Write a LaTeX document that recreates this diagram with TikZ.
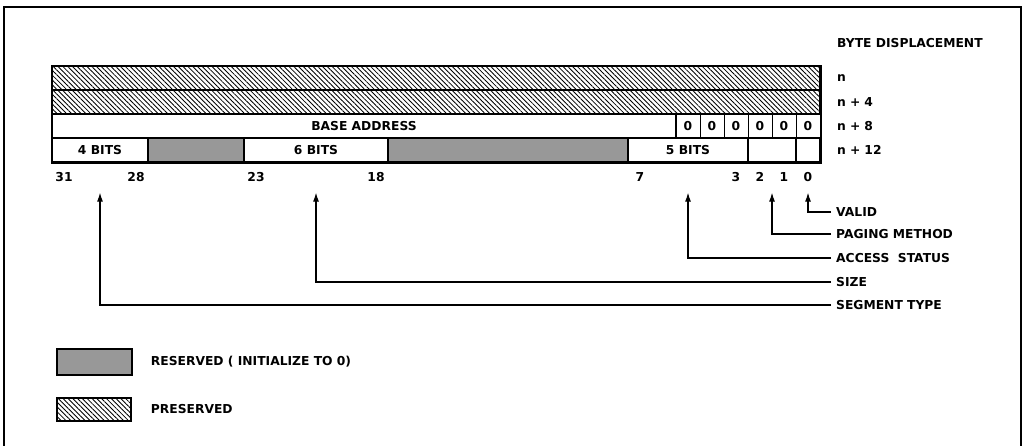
\documentclass[tikz,border=0pt]{standalone}
\usepackage{fontspec}
\setmainfont{DejaVu Sans}
\usetikzlibrary{patterns.meta,positioning,arrows.meta}

\newcommand{\txtfont}{\fontsize{12.3}{14}\selectfont\bfseries}
\tikzset{
  field/.style={draw,line width=1.3pt,minimum height=24pt,inner sep=0pt,font=\txtfont},
  zerocell/.style={field,line width=0.9pt,minimum width=24pt},
  preserved/.style={pattern={Lines[angle=-45,distance=3.4pt,line width=0.85pt]}},
  reserved/.style={fill=black!35,postaction={pattern={Dots[distance=2pt,radius=0.45pt]}}},
  lbl/.style={anchor=west,inner sep=0pt,font=\txtfont},
  ptr/.style={anchor=west,inner xsep=5pt,inner ysep=0pt,font=\txtfont},
  bitno/.style={inner sep=0pt,font=\txtfont},
  pointer/.style={-{Latex[length=9pt,width=6pt]},line width=1.1pt},
}

\begin{document}
\begin{tikzpicture}[x=1pt,y=-1pt,line cap=butt]
  \useasboundingbox (0,0) rectangle (1024,446);
  \draw[line width=1.5pt] (4,450) -- (4,7) -- (1021,7) -- (1021,450);

  % preserved rows
  \node[field,preserved,minimum width=768pt] (prs1) at (436,78) {};
  \node[field,preserved,minimum width=768pt] (prs2) at (436,102) {};

  % base address row
  \node[field,minimum width=624pt] (base) at (364,126) {BASE ADDRESS};
  \foreach \i/\x in {5/688,4/712,3/736,2/760,1/784,0/808}
    \node[zerocell] (zero\i) at (\x,126) {0};

  % last row
  \node[field,minimum width=96pt] (f4bits) at (100,150) {4 BITS};
  \node[field,reserved,minimum width=96pt] (res1) at (196,150) {};
  \node[field,minimum width=144pt] (f6bits) at (316,150) {6 BITS};
  \node[field,reserved,minimum width=240pt] (res2) at (508,150) {};
  \node[field,minimum width=120pt] (f5bits) at (688,150) {5 BITS};
  \node[field,minimum width=48pt] (f2bits) at (772,150) {};
  \node[field,minimum width=24pt] (f1bit) at (808,150) {};
  \draw[line width=2pt] (prs1.north west) rectangle (f1bit.south east);

  % bit numbers
  \foreach \b/\x in {31/64,28/136,23/256,18/376,7/640,3/736,2/760,1/784,0/808}
    \node[bitno] (bit\b) at (\x,177) {\b};

  % byte displacement
  \node[lbl] (bytedisp) at (837,43) {BYTE DISPLACEMENT};
  \node[lbl] (dn) at (837,78) {n};
  \node[lbl] (dn4) at (837,102) {n\,\,+\,\,4};
  \node[lbl] (dn8) at (837,126) {n\,\,+\,\,8};
  \node[lbl] (dn12) at (837,150) {n\,\,+\,\,12};

  % pointers
  \node[ptr] (valid) at (831,212) {VALID};
  \node[ptr] (paging) at (831,234) {PAGING METHOD};
  \node[ptr] (access) at (831,258) {ACCESS\ \ STATUS};
  \node[ptr] (size) at (831,282) {SIZE};
  \node[ptr] (segtype) at (831,305) {SEGMENT TYPE};
  \draw[pointer] (valid.west) -| ([yshift=-30pt]f1bit.south);
  \draw[pointer] (paging.west) -| ([yshift=-30pt]f2bits.south);
  \draw[pointer] (access.west) -| ([yshift=-30pt]f5bits.south);
  \draw[pointer] (size.west) -| ([yshift=-30pt]f6bits.south);
  \draw[pointer] (segtype.west) -| ([yshift=-30pt]f4bits.south);

  % legend
  \node[draw,line width=1.5pt,reserved,minimum width=75pt,minimum height=26pt] (legres) at (94.5,362) {};
  \node[lbl,right=18pt of legres] (legrestxt) {RESERVED ( INITIALIZE TO 0)};
  \node[draw,line width=1.5pt,preserved,minimum width=74pt,minimum height=23pt] (legprs) at (94,409.5) {};
  \node[lbl,right=19pt of legprs] (legprstxt) {PRESERVED};
\end{tikzpicture}
\end{document}
